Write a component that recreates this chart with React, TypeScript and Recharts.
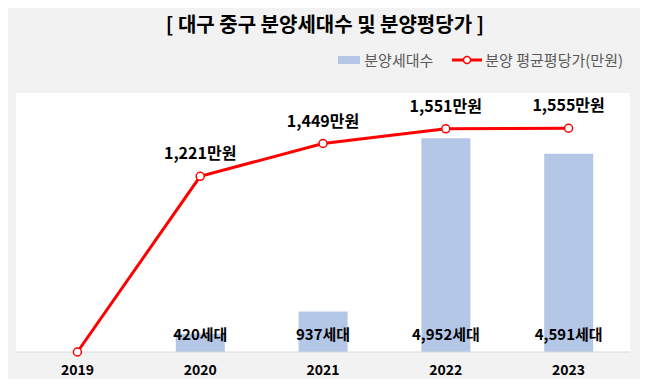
import { ComposedChart, Bar, Line, XAxis, YAxis, CartesianGrid, LabelList } from "recharts";

const years = ["2019", "2020", "2021", "2022", "2023"];
const units = [0, 420, 937, 4952, 4591];
const pricePerPyeong = [0, 1221, 1449, 1551, 1555];

const data = years.map((year, i) => ({
  year,
  units: units[i],
  price: pricePerPyeong[i],
}));

const FONT = "'Malgun Gothic', 'Noto Sans CJK KR', sans-serif";

function BarLabel(props: any) {
  const { x, y, width, height, value } = props;
  if (!value) return null;
  return (
    <text
      x={x + width / 2}
      y={y + height - 12}
      textAnchor="middle"
      fontFamily={FONT}
      fontWeight={700}
      fontSize={15}
      fill="#000"
    >
      {`${Number(value).toLocaleString("en-US")}세대`}
    </text>
  );
}

function LineLabel(props: any) {
  const { x, y, value } = props;
  if (!value) return null;
  return (
    <text
      x={x}
      y={y - 17}
      textAnchor="middle"
      fontFamily={FONT}
      fontWeight={700}
      fontSize={16}
      fill="#000"
    >
      {`${Number(value).toLocaleString("en-US")}만원`}
    </text>
  );
}

function LegendBox() {
  return (
    <div
      style={{
        position: "absolute",
        top: 48,
        right: 24,
        display: "flex",
        alignItems: "center",
        fontFamily: FONT,
        fontSize: 15,
        color: "#595959",
      }}
    >
      <span style={{ width: 22, height: 8, background: "#b4c7e7", display: "inline-block", marginRight: 4 }} />
      <span style={{ marginRight: 19 }}>분양세대수</span>
      <svg width={30} height={10} style={{ marginRight: 3 }}>
        <line x1={0} y1={5} x2={30} y2={5} stroke="#ff0000" strokeWidth={3} />
        <circle cx={15} cy={5} r={3.5} fill="#fff" stroke="#ff0000" strokeWidth={1.5} />
      </svg>
      <span>분양 평균평당가(만원)</span>
    </div>
  );
}

export default function App() {
  return (
    <div
      style={{
        position: "relative",
        width: 648,
        height: 387,
        margin: -8,
        background: "#f2f2f2",
        boxSizing: "border-box",
        border: "1px solid #d9d9d9",
        borderLeft: "2px solid #d9d9d9",
      }}
    >
      <div
        style={{
          position: "absolute",
          top: 8,
          left: 0,
          width: 646,
          textAlign: "center",
          fontFamily: FONT,
          fontWeight: 700,
          fontSize: 20,
          color: "#000",
        }}
      >
        [ 대구 중구 분양세대수 및 분양평당가 ]
      </div>
      <LegendBox />
      <ComposedChart
        width={645}
        height={385}
        data={data}
        margin={{ top: 92, right: 17, bottom: 4, left: 14 }}
        style={{ position: "absolute", top: 0, left: 0 }}
      >
        <CartesianGrid fill="#ffffff" horizontal={false} vertical={false} stroke="none" />
        <XAxis
          dataKey="year"
          axisLine={{ stroke: "#d9d9d9" }}
          tickLine={false}
          tickMargin={7}
          tick={{ fill: "#000", fontSize: 14, fontWeight: 700, fontFamily: FONT }}
        />
        <YAxis yAxisId="units" domain={[0, 6000]} hide />
        <YAxis yAxisId="price" orientation="right" domain={[0, 1800]} hide />
        <Bar yAxisId="units" dataKey="units" fill="#b4c7e7" barSize={49} isAnimationActive={false}>
          <LabelList dataKey="units" content={BarLabel} />
        </Bar>
        <Line
          yAxisId="price"
          dataKey="price"
          stroke="#ff0000"
          strokeWidth={3}
          dot={{ r: 4, fill: "#fff", stroke: "#ff0000", strokeWidth: 1.5 }}
          isAnimationActive={false}
        >
          <LabelList dataKey="price" content={LineLabel} />
        </Line>
      </ComposedChart>
    </div>
  );
}
